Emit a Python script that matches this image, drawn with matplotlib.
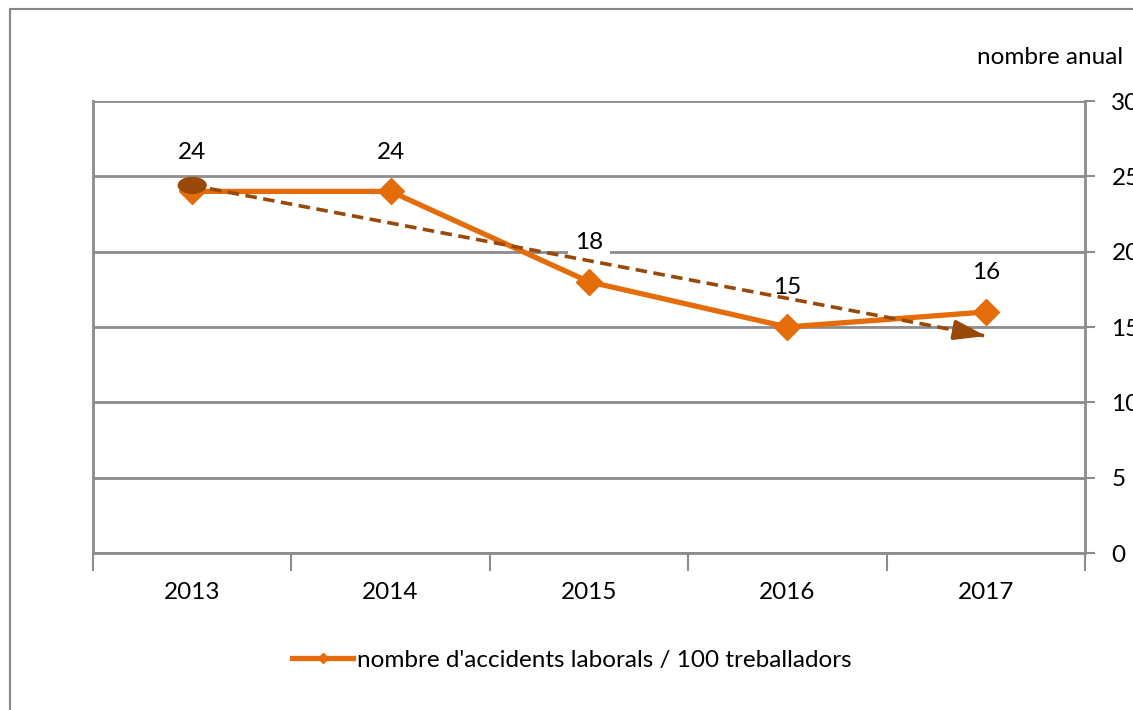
import numpy as np
import matplotlib.pyplot as plt
from matplotlib.patches import Ellipse, Rectangle

years = ["2013", "2014", "2015", "2016", "2017"]
accidents = [24, 24, 18, 15, 16]
y_ticks = [0, 5, 10, 15, 20, 25, 30]
trend_start = 24.4   # trend arrow, first year
trend_end = 14.4     # trend arrow, last year

ORANGE = "#E46C0A"
BROWN = "#984807"
GRID = "#8C8C8C"
FS = 17.5

plt.rcParams["font.family"] = ["Lato", "DejaVu Sans"]

fig = plt.figure(figsize=(11.33, 7.10), dpi=100)
ax = fig.add_axes([93 / 1133, 157 / 710, 992 / 1133, 452 / 710])

# outer chart frame (right and bottom edges fall outside the image)
fig.patches.append(Rectangle((9.5 / 1133, -0.05), 1.2, (701.5 / 710) + 0.05,
                             transform=fig.transFigure, fill=False,
                             edgecolor="#878787", linewidth=1.5))

x = np.arange(len(years))

ax.set_xlim(-0.5, len(years) - 0.5)
ax.set_ylim(0, 30)
ax.yaxis.tick_right()
ax.set_yticks(y_ticks)
ax.set_yticklabels([str(v) for v in y_ticks])
ax.set_xticks(x)
ax.set_xticklabels(years)
ax.set_xticks(np.arange(len(years) + 1) - 0.5, minor=True)
ax.tick_params(axis="x", which="major", length=0, pad=21, labelsize=FS)
ax.tick_params(axis="x", which="minor", length=13, width=1.5, color=GRID)
ax.tick_params(axis="y", length=7, width=1.5, color=GRID, pad=12, labelsize=FS)

ax.spines["top"].set_visible(False)
for s in ["left", "right", "bottom"]:
    ax.spines[s].set_color(GRID)
    ax.spines[s].set_linewidth(2)
ax.grid(axis="y", color=GRID, linewidth=2)
ax.set_axisbelow(True)

ax.plot(x, accidents, color=ORANGE, linewidth=3.8, marker="D", markersize=13.5,
        zorder=3, label="nombre d'accidents laborals / 100 treballadors")

for xi, v in zip(x, accidents):
    ax.annotate(str(v), (xi, v), xytext=(0, 39), textcoords="offset pixels",
                ha="center", va="center", fontsize=FS, zorder=2,
                bbox=dict(boxstyle="square,pad=0.3", facecolor="white",
                          edgecolor="none"))

# dashed trend arrow
tx = [x[0], x[-1]]
ty = [trend_start, trend_end]
ax.plot(tx, ty, color=BROWN, linewidth=2.6, dashes=(3.2, 1.8), zorder=4)
ax.add_patch(Ellipse((tx[0], ty[0]), 0.14, 1.05, color=BROWN, zorder=5))
f = 0.04
ax.annotate("", xy=(tx[1], ty[1]),
            xytext=(tx[1] - f * (tx[1] - tx[0]), ty[1] - f * (ty[1] - ty[0])),
            arrowprops=dict(arrowstyle="-|>,head_length=0.95,head_width=0.3",
                            color=BROWN, linewidth=2.6, mutation_scale=20,
                            shrinkA=0, shrinkB=0),
            zorder=5)

fig.text(1123 / 1133, 1 - 58 / 710, "nombre anual", ha="right", va="center",
         fontsize=FS)

fig.legend(loc="center", bbox_to_anchor=(572 / 1133, 1 - 660 / 710),
           frameon=False, fontsize=FS, handlelength=2.5, handletextpad=0.15,
           markerscale=0.4)

fig.savefig("out.png", dpi=100)
